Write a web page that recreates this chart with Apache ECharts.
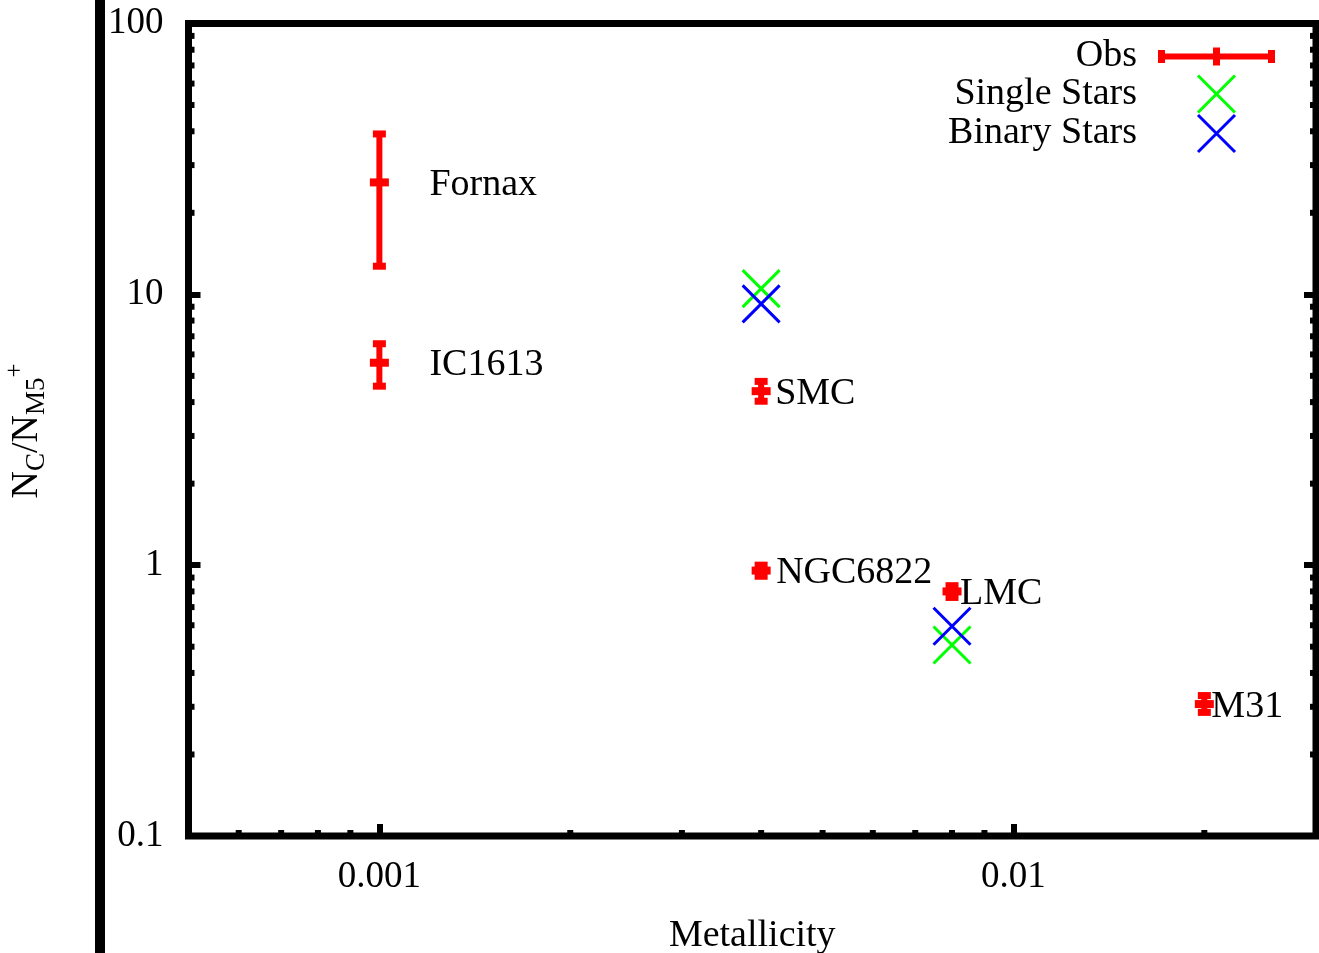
<!DOCTYPE html>
<html><head><meta charset="utf-8">
<script src="https://cdn.jsdelivr.net/npm/echarts@6/dist/echarts.min.js"></script>
<style>html,body{margin:0;padding:0;background:#fff}#c{width:1319px;height:953px}</style>
</head><body><div id="c"></div>
<script>
// ---- data ----
const obsNames = ['Fornax', 'IC1613', 'SMC', 'NGC6822', 'LMC', 'M31'];
const obsZ     = [0.001, 0.001, 0.004, 0.004, 0.008, 0.02];
const obsRatio = [25.9, 5.59, 4.39, 0.955, 0.80, 0.307];
const obsLow   = [12.7, 4.58, 4.03, 0.91, 0.76, 0.286];
const obsHigh  = [39.1, 6.57, 4.77, 1.00, 0.84, 0.33];
const singleZ = [0.004, 0.008];
const singleRatio = [10.5, 0.507];
const binaryZ = [0.004, 0.008];
const binaryRatio = [9.22, 0.595];
const xTickValues = [0.001, 0.01];
const xTickLabels = ['0.001', '0.01'];
const yTickValues = [0.1, 1, 10, 100];
const yTickLabels = ['0.1', '1', '10', '100'];
const xMinorTicks = [0.0006, 0.0007, 0.0008, 0.0009, 0.002, 0.003, 0.004, 0.005, 0.006, 0.007, 0.008, 0.009, 0.02];
const yMinorTicks = [0.2, 0.3, 0.4, 0.5, 0.6, 0.7, 0.8, 0.9, 2, 3, 4, 5, 6, 7, 8, 9, 20, 30, 40, 50, 60, 70, 80, 90];
const xMin = 0.0005, xMax = 0.03, yMin = 0.1, yMax = 100;

// ---- style / layout ----
const FONT = 'Liberation Serif';
const RED = '#ff0000', GREEN = '#00ff00', BLUE = '#0000ff';
const labelDx = {Fornax: 50, IC1613: 50, SMC: 14, NGC6822: 15, LMC: 8, M31: 7};
const labelDy = 2.5;
const xPath = 'path://M0 0L10 10M10 0L0 10';
const obsIcon = 'path://M0 6H117V12H0Z M0 2.5H7V15.5H0Z M110 2.5H117V15.5H110Z M55 0H62V18H55Z';

function pickLabel(v, vals, labs) {
  for (let i = 0; i < vals.length; i++) {
    if (Math.abs(Math.log10(v) - Math.log10(vals[i])) < 1e-6) return labs[i];
  }
  return '';
}

const chart = echarts.init(document.getElementById('c'), null, {renderer: 'canvas'});
const tickStyle = {inside: true, length: 12, lineStyle: {width: 6, color: '#000'}};
const labelStyle = {fontFamily: FONT, fontSize: 37, color: '#000'};

chart.setOption({
  backgroundColor: '#fff',
  animation: false,
  grid: {left: 188.5, right: 3, top: 23.5, bottom: 117, show: true, borderColor: '#000', borderWidth: 7, outerBoundsMode: 'none'},
  xAxis: [{
    type: 'log', logBase: 10, min: xMin, max: xMax,
    axisLine: {show: false}, splitLine: {show: false},
    axisTick: tickStyle,
    axisLabel: Object.assign({margin: 23, formatter: v => pickLabel(v, xTickValues, xTickLabels)}, labelStyle),
    name: 'Metallicity', nameLocation: 'middle', nameGap: 81,
    nameTextStyle: {fontFamily: FONT, fontSize: 38, color: '#000'}
  }],
  yAxis: [{
    type: 'log', logBase: 10, min: yMin, max: yMax, position: 'left',
    axisLine: {show: false}, splitLine: {show: false},
    axisTick: tickStyle,
    axisLabel: Object.assign({margin: 25, padding: [5, 0, 0, 0], formatter: v => pickLabel(v, yTickValues, yTickLabels)}, labelStyle)
  }, {
    type: 'log', logBase: 10, min: yMin, max: yMax, position: 'right',
    axisLine: {show: false}, splitLine: {show: false},
    axisTick: tickStyle, axisLabel: {show: false}
  }],
  legend: {
    orient: 'vertical', right: 44, top: 37.5, align: 'right', padding: 0,
    itemWidth: 117, itemHeight: 37, itemGap: -2.5, selectedMode: false,
    textStyle: {fontFamily: FONT, fontSize: 38, lineHeight: 30, color: '#000', padding: [0, 16, 0, 0]},
    data: [
      {name: 'Obs', icon: obsIcon, itemStyle: {color: RED, borderWidth: 0}},
      {name: 'Single Stars', icon: xPath, itemStyle: {color: 'none', borderColor: GREEN, borderWidth: 3}},
      {name: 'Binary Stars', icon: xPath, itemStyle: {color: 'none', borderColor: BLUE, borderWidth: 3}}
    ]
  },
  graphic: [
    {type: 'rect', shape: {x: 95, y: 0, width: 10, height: 953}, style: {fill: '#000'}, silent: true},
    {type: 'text', x: 27, y: 431, rotation: Math.PI / 2, silent: true,
     style: {
       text: '{n|N}{s|C}{n|/N}{s|M5}{p|+}',
       align: 'center', verticalAlign: 'middle', fill: '#000', fontFamily: FONT,
       rich: {
         n: {fontFamily: FONT, fontSize: 38, lineHeight: 38, padding: [11, 0, 11, 0], fill: '#000'},
         s: {fontFamily: FONT, fontSize: 27, lineHeight: 27, padding: [26.6, 0, 6.4, 0], fill: '#000'},
         p: {fontFamily: FONT, fontSize: 25, lineHeight: 25, padding: [5.5, 0, 29.5, 0], fill: '#000'}
       }
     }}
  ],
  series: [
    {
      name: 'xMinor', type: 'custom', silent: true, clip: false, z: 5,
      xAxisIndex: 0, yAxisIndex: 0,
      data: xMinorTicks.map(v => [v, yMin]),
      renderItem: (params, api) => {
        const p = api.coord([api.value(0), yMin]);
        return {type: 'line', shape: {x1: p[0], y1: p[1], x2: p[0], y2: p[1] - 6}, style: {stroke: '#000', lineWidth: 6}};
      }
    },
    {
      name: 'yMinor', type: 'custom', silent: true, clip: false, z: 5,
      xAxisIndex: 0, yAxisIndex: 0,
      data: yMinorTicks.map(v => [xMin, v]),
      renderItem: (params, api) => {
        const l = api.coord([xMin, api.value(1)]);
        const r = api.coord([xMax, api.value(1)]);
        return {type: 'group', children: [
          {type: 'line', shape: {x1: l[0], y1: l[1], x2: l[0] + 6, y2: l[1]}, style: {stroke: '#000', lineWidth: 6}},
          {type: 'line', shape: {x1: r[0], y1: r[1], x2: r[0] - 6, y2: r[1]}, style: {stroke: '#000', lineWidth: 6}}
        ]};
      }
    },
    {
      name: 'Obs', type: 'custom', clip: false, z: 3,
      itemStyle: {color: RED},
      data: obsZ.map((z, i) => [z, obsRatio[i], obsLow[i], obsHigh[i]]),
      encode: {x: 0, y: [1, 2, 3]},
      renderItem: (params, api) => {
        const x = api.value(0);
        const c = api.coord([x, api.value(1)]);
        const cl = api.coord([x, api.value(2)]);
        const ch = api.coord([x, api.value(3)]);
        const name = obsNames[params.dataIndex];
        return {type: 'group', children: [
          {type: 'line', shape: {x1: c[0], y1: ch[1], x2: c[0], y2: cl[1]}, style: {stroke: RED, lineWidth: 6}},
          {type: 'rect', shape: {x: c[0] - 6.5, y: ch[1] - 3.5, width: 13, height: 7}, style: {fill: RED}},
          {type: 'rect', shape: {x: c[0] - 6.5, y: cl[1] - 3.5, width: 13, height: 7}, style: {fill: RED}},
          {type: 'rect', shape: {x: c[0] - 9.5, y: c[1] - 4, width: 19, height: 8}, style: {fill: RED}},
          {type: 'text', x: c[0] + labelDx[name], y: c[1] + labelDy,
           style: {text: name, fill: '#000', font: '38px "Liberation Serif"', align: 'left', verticalAlign: 'middle'}}
        ]};
      }
    },
    {
      name: 'Single Stars', type: 'scatter', symbol: xPath, symbolSize: 37, z: 4,
      itemStyle: {color: 'none', borderColor: GREEN, borderWidth: 3, opacity: 1},
      data: singleZ.map((z, i) => [z, singleRatio[i]])
    },
    {
      name: 'Binary Stars', type: 'scatter', symbol: xPath, symbolSize: 37, z: 4,
      itemStyle: {color: 'none', borderColor: BLUE, borderWidth: 3, opacity: 1},
      data: binaryZ.map((z, i) => [z, binaryRatio[i]])
    }
  ]
});
</script>
</body></html>
